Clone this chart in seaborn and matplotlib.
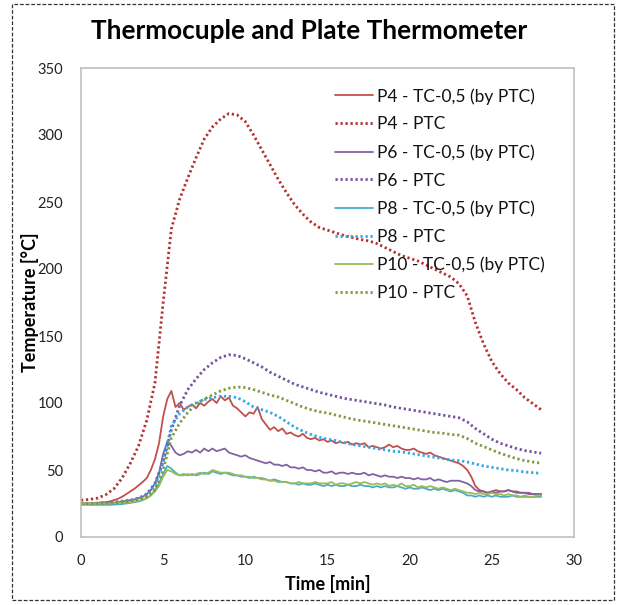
import numpy as np
import pandas as pd
import seaborn as sns
import matplotlib
matplotlib.use("Agg")
import matplotlib.pyplot as plt
from matplotlib.patches import Rectangle

# ---------------- data ----------------
t_tc = np.round(np.arange(0, 28.001, 0.25), 2)   # sampling grid of thermocouples [min]
t_ptc = np.round(np.arange(0, 28.001, 0.5), 2)   # sampling grid of plate thermometers [min]

p4_tc = [25, 25, 25, 25.2, 25.5, 25.8, 26, 26.5, 27.5, 28.5, 30, 32,
         34, 36, 38.5, 41, 44, 50, 58, 70, 90, 103, 109, 97,
         100, 95, 97, 99, 96, 100, 98, 101, 103, 100, 105, 102,
         104, 98, 96, 93, 90, 93, 92, 97, 88, 84, 80, 82,
         79, 81, 77, 78, 76, 75, 77, 74, 73, 74, 72, 73,
         71, 72, 70, 71, 70, 71, 69, 70, 69, 70, 67, 68,
         67, 66, 67, 69, 67, 68, 66, 65, 65, 66, 64, 63,
         62, 63, 61, 60, 59, 58, 57, 56, 55, 53, 50, 45,
         38, 35, 34, 33, 34, 35, 34, 34, 35, 34, 34, 33,
         33, 33, 32, 32, 32]
p6_tc = [25, 25, 25, 25, 25, 25, 25.2, 25.4, 25.6, 26, 26.4, 27,
         27.5, 28, 29, 30, 32, 35, 40, 48, 62, 71, 68, 63,
         61, 62, 64, 63, 65, 63, 66, 64, 66, 64, 65, 66,
         63, 62, 61, 60, 61, 59, 58, 57, 56, 55, 56, 54,
         54, 53, 54, 52, 52, 51, 52, 50, 50, 49, 50, 48,
         48, 49, 47, 48, 48, 47, 48, 47, 47, 48, 46, 47,
         46, 45, 46, 45, 45, 44, 45, 44, 44, 43, 44, 43,
         43, 44, 42, 43, 42, 41, 42, 42, 42, 41, 40, 38,
         35, 34, 34, 33, 34, 33, 34, 34, 35, 34, 33, 33,
         33, 32, 32, 32, 32]
p8_tc = [24, 24, 24, 24, 24, 24, 24, 24, 24.2, 24.4, 24.6, 25,
         25.5, 26, 26.5, 27.5, 29, 31, 35, 40, 47, 53, 51, 48,
         46, 47, 46, 47, 46, 47, 48, 47, 49, 48, 47, 48,
         47, 46, 46, 45, 45, 44, 45, 44, 44, 43, 42, 43,
         42, 41, 41, 40, 40, 39, 40, 39, 39, 40, 39, 38,
         39, 38, 39, 38, 38, 39, 38, 38, 39, 38, 38, 37,
         38, 37, 38, 37, 37, 38, 37, 36, 37, 36, 36, 37,
         36, 35, 36, 35, 36, 35, 34, 35, 34, 33, 31, 31,
         30, 31, 30, 31, 30, 31, 30, 30, 30, 31, 30, 30,
         30, 30, 30, 30, 30]
p10_tc = [25, 25, 25, 25, 25, 25, 25, 25, 25.2, 25.4, 25.6, 25.8,
          26, 26.5, 27, 28, 29, 31, 34, 38, 45, 50, 49, 47,
          46, 46, 47, 46, 47, 48, 47, 48, 50, 49, 48, 48,
          48, 47, 46, 46, 45, 45, 44, 44, 43, 43, 42, 42,
          41, 41, 41, 40, 40, 41, 40, 40, 40, 41, 40, 40,
          40, 41, 39, 40, 40, 39, 40, 41, 40, 41, 40, 39,
          40, 39, 40, 38, 39, 38, 40, 38, 38, 39, 37, 38,
          37, 38, 37, 36, 37, 36, 35, 36, 35, 34, 33, 33,
          32, 33, 32, 32, 33, 32, 32, 31, 32, 31, 31, 30,
          31, 30, 30, 31, 31]

p4_ptc = [27.5, 28, 29, 31.5, 36, 44, 55, 68, 87, 115, 175, 230,
          252, 268, 283, 297, 306, 312, 316, 315, 310, 300, 289, 278,
          267, 257, 248, 241, 235, 231, 229, 227, 225, 223.5, 222, 221,
          219, 216, 213, 210, 208, 206, 203, 200, 197, 194, 189, 180,
          160, 144, 131, 122, 115, 110, 104, 99.5, 95]
p6_ptc = [25, 25, 25.2, 25.5, 26, 26.7, 27.5, 29, 32, 40, 56, 80,
          98, 110, 118, 125, 130, 134, 136, 135.5, 133, 130, 127, 123,
          120, 117, 114, 112, 110, 108, 106.5, 105, 103.5, 102.5, 101.5, 100.5,
          99.5, 98.5, 97, 96, 95, 94, 93, 92, 91, 90, 89, 86,
          81, 77, 73, 70, 68, 66, 64.5, 63.5, 62.5]
p8_ptc = [25, 25, 25, 25.2, 25.5, 26, 27, 28.5, 31, 38, 56, 83,
          92, 97, 100, 102.5, 104, 105, 105, 104, 101, 97, 95, 93,
          90, 86, 82, 79, 76.5, 74.5, 73, 72, 70.5, 69, 68, 67,
          66, 65, 64, 63.5, 62.5, 61.5, 60.5, 59.5, 58.5, 57.5, 57, 56,
          54.5, 53, 52, 51, 50, 49.5, 48.5, 48, 47.5]
p10_ptc = [25, 25, 25, 25.2, 25.5, 26, 26.8, 28, 30, 35, 50, 74,
           85, 93, 99, 103, 106, 109, 111, 112, 111.5, 110, 108, 106,
           104.5, 102, 99.5, 97, 95, 93.5, 92.5, 91, 89.5, 88, 87, 86,
           85, 84, 83, 82, 81, 80, 79, 78, 77.5, 76.5, 76, 73.5,
           70, 67.5, 65, 62.5, 60.5, 58.5, 57, 56, 55]

series = [
    ("P4 - TC-0,5 (by PTC)", t_tc, p4_tc, "#C0504D", "solid"),
    ("P4 - PTC", t_ptc, p4_ptc, "#B3302E", "dotted"),
    ("P6 - TC-0,5 (by PTC)", t_tc, p6_tc, "#8064A2", "solid"),
    ("P6 - PTC", t_ptc, p6_ptc, "#7352A0", "dotted"),
    ("P8 - TC-0,5 (by PTC)", t_tc, p8_tc, "#4BACC6", "solid"),
    ("P8 - PTC", t_ptc, p8_ptc, "#33A6E8", "dotted"),
    ("P10 - TC-0,5 (by PTC)", t_tc, p10_tc, "#9BBB59", "solid"),
    ("P10 - PTC", t_ptc, p10_ptc, "#7F9A3D", "dotted"),
]

# ---------------- plot ----------------
sns.set_style("white")
plt.rcParams["font.family"] = ["Lato", "DejaVu Sans"]

fig = plt.figure(figsize=(6.19, 6.05), dpi=100)
ax = fig.add_axes([81 / 619, 1 - 537 / 605, (574 - 81) / 619, (537 - 68) / 605])

for name, tt, vals, col, style in series:
    df = pd.DataFrame({"t": tt, "v": vals})
    if style == "solid":
        sns.lineplot(data=df, x="t", y="v", ax=ax, color=col, lw=1.3,
                     label=name, estimator=None)
    else:
        sns.lineplot(data=df, x="t", y="v", ax=ax, color=col, lw=2.0,
                     label=name, estimator=None,
                     linestyle=(0, (0.8, 1.0)))

ax.set_xlim(0, 30)
ax.set_ylim(0, 350)
ax.set_xticks([0, 5, 10, 15, 20, 25, 30])
ax.set_yticks([0, 50, 100, 150, 200, 250, 300, 350])
ax.tick_params(axis="both", length=0, labelsize=10.5, colors="#222222")
ax.tick_params(axis="x", pad=12)
ax.tick_params(axis="y", pad=13)
for sp in ax.spines.values():
    sp.set_color("#BFBFBF")
    sp.set_linewidth(1.2)

ax.set_xlabel("Time [min]", fontsize=13, fontweight="bold", labelpad=5, color="black")
ax.set_ylabel("Temperature [°C]", fontsize=13, fontweight="bold", labelpad=-1, color="black")

leg = ax.legend(loc="upper left", bbox_to_anchor=((335 - 81) / 493, (537 - 88) / 469),
                frameon=False, fontsize=12.5, borderpad=0, borderaxespad=0,
                handlelength=2.2, handletextpad=0.2, labelspacing=0.68)
for txt in leg.get_texts():
    txt.set_color("#111111")

fig.text(0.5, 1 - 31 / 605, "Thermocuple and Plate Thermometer", ha="center",
         va="center", fontsize=18.8, fontweight="bold", color="black")

fig.patches.append(Rectangle((12 / 619, 1 - 600 / 605), (614 - 12) / 619, (600 - 4) / 605,
                             transform=fig.transFigure, fill=False, ec="#333333",
                             lw=0.9, ls=(0, (3, 1.5))))

fig.savefig("out.png", dpi=100)
